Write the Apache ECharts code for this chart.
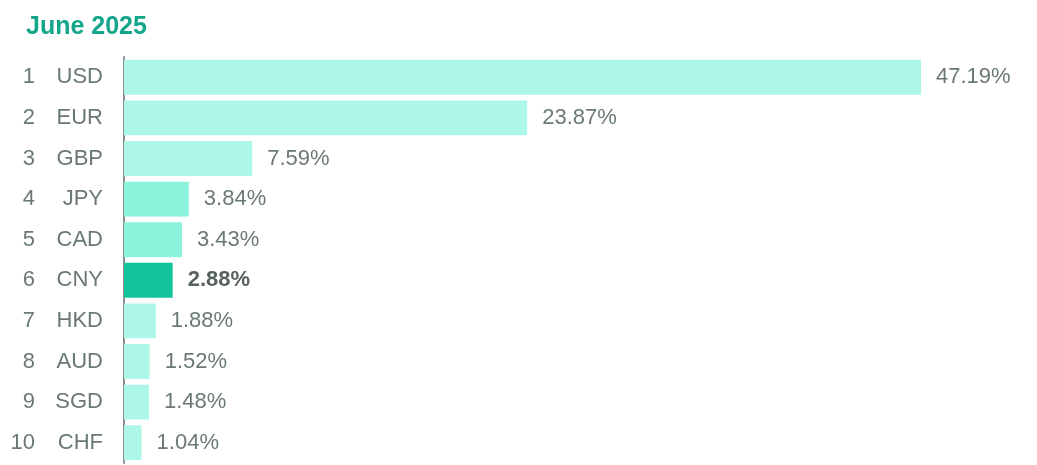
<!DOCTYPE html>
<html><head><meta charset="utf-8">
<script src="https://cdn.jsdelivr.net/npm/echarts@6/dist/echarts.min.js"></script>
<style>html,body{margin:0;padding:0;background:#fff}#c{width:1037px;height:465px}</style>
</head><body><div id="c"></div>
<script>
const ranks = [1,2,3,4,5,6,7,8,9,10];
const currencies = ['USD','EUR','GBP','JPY','CAD','CNY','HKD','AUD','SGD','CHF'];
const shares = [47.19,23.87,7.59,3.84,3.43,2.88,1.88,1.52,1.48,1.04];
const barColors = ['#adf7e8','#adf7e8','#adf7e8','#8bf3dc','#8bf3dc','#12c49c','#adf7e8','#adf7e8','#adf7e8','#adf7e8'];
const highlight = 'CNY';

const chart = echarts.init(document.getElementById('c'));
const font = '"Liberation Sans", Arial, Helvetica, sans-serif';
chart.setOption({
  animation:false,
  title:{text:'June 2025',left:21,top:10,textStyle:{color:'#14a68a',fontSize:25,fontWeight:'bold',fontFamily:font}},
  grid:{left:124,right:68.5,top:57,bottom:2,containLabel:false},
  xAxis:{type:'value',min:0,max:50,show:false},
  yAxis:{type:'category',data:currencies,inverse:true,
    axisLine:{show:true,lineStyle:{color:'#8a8f8f',width:2}},
    axisTick:{show:false},
    axisLabel:{margin:21,fontFamily:font,fontSize:22,color:'#6a7878',
      formatter:function(v,i){return '{r|'+ranks[i]+'}{c|'+v+'}';},
      rich:{r:{width:34,align:'right',fontSize:22,color:'#6a7878',fontFamily:font},
            c:{width:68,align:'right',fontSize:22,color:'#6a7878',fontFamily:font}}}
  },
  series:[{type:'bar',barCategoryGap:'14%',
    data:shares.map((v,i)=>({value:v,itemStyle:{color:barColors[i]},
      label:currencies[i]===highlight?{fontWeight:'bold',color:'#55605f'}:{}})),
    label:{show:true,position:'right',distance:15,fontFamily:font,fontSize:22,color:'#6a7878',
      formatter:p=>p.value.toFixed(2)+'%'}
  }]
});
</script></body></html>
